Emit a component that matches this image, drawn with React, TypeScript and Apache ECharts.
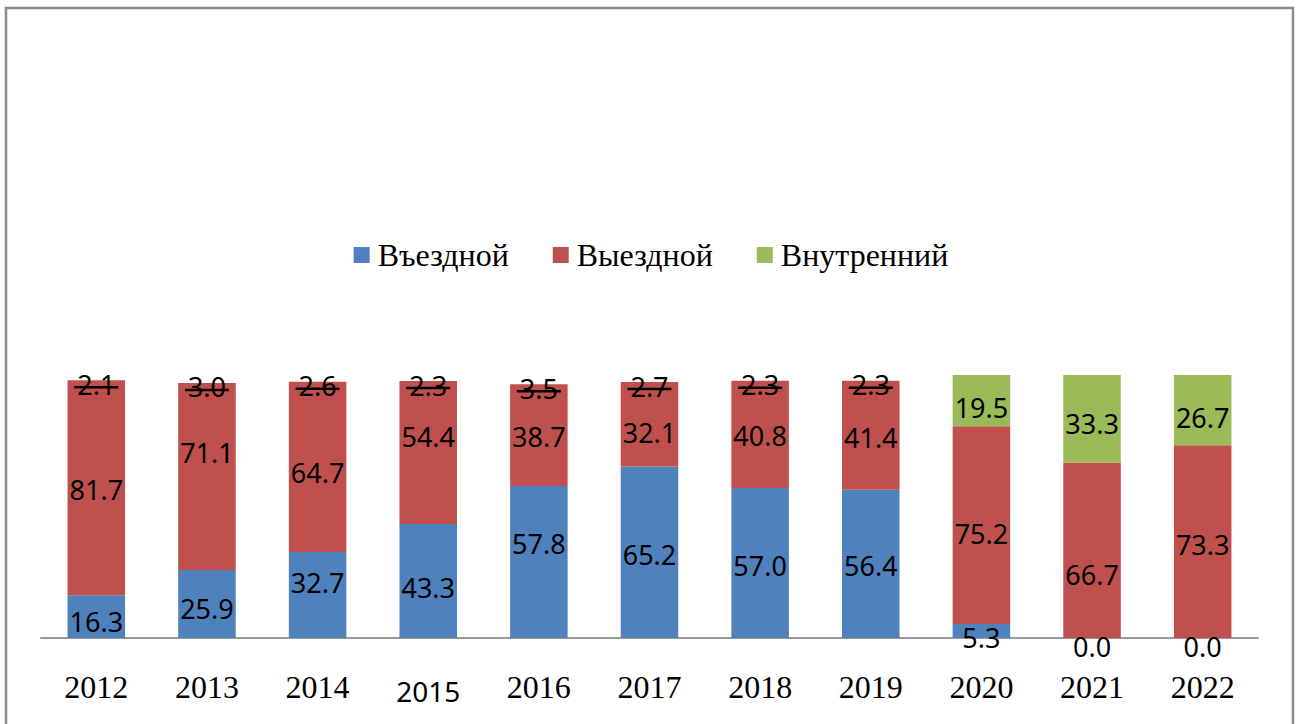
import React, { useEffect, useRef } from "react";
import * as echarts from "echarts";

const years = ["2012", "2013", "2014", "2015", "2016", "2017", "2018", "2019", "2020", "2021", "2022"];
const inbound = [16.3, 25.9, 32.7, 43.3, 57.8, 65.2, 57.0, 56.4, 5.3, 0.0, 0.0];
const outbound = [81.7, 71.1, 64.7, 54.4, 38.7, 32.1, 40.8, 41.4, 75.2, 66.7, 73.3];
const domestic = [2.1, 3.0, 2.6, 2.3, 3.5, 2.7, 2.3, 2.3, 19.5, 33.3, 26.7];
const seriesNames = ["Въездной", "Выездной", "Внутренний"];
const colors = ["#4f81bd", "#c0504d", "#9bbb59"];

const LABEL_FONT = "'Noto Sans', 'Open Sans', sans-serif";
const SERIF = "'Liberation Serif', 'DejaVu Serif', serif";

// hand-placed label nudges of the original (vertical px), per series
const nudgeInbound = [5, 5, -12, 6, -18, 2, 2, 2, 6, 8, 8];
const nudgeOutbound = [2, -24, 6, -16, 1, 8, 1, 2, 8, 24, 3];
const nudgeDomestic = [0, 0, 0, 0, 0, 0, 0, 0, 7, 5, 7];

export default function App() {
  const ref = useRef<HTMLDivElement>(null);
  useEffect(() => {
    if (!ref.current) return;
    const chart = echarts.init(ref.current, null, { renderer: "svg" });
    const dataLabel = {
      show: true,
      position: "inside" as const,
      color: "#000",
      fontFamily: LABEL_FONT,
      fontSize: 27,
      formatter: (p: any) => Number(p.value).toFixed(1),
    };
    const small = (v: number) => v < 5;
    const withNudge = (arr: number[], nudge: number[]) =>
      arr.map((v, i) => ({ value: v, label: { offset: [0, nudge[i]] } }));
    chart.setOption({
      animation: false,
      backgroundColor: "#fff",
      graphic: [
        {
          type: "rect",
          shape: { x: 6, y: 8, width: 1287, height: 740 },
          style: { fill: "none", stroke: "#8c8c8c", lineWidth: 2.5 },
          z: 100,
        },
      ],
      legend: {
        top: 234,
        left: "center",
        itemWidth: 16,
        itemHeight: 16,
        itemGap: 44,
        icon: "rect",
        data: seriesNames,
        textStyle: { fontFamily: SERIF, fontSize: 32, color: "#000", padding: [0, 0, 0, 3] },
      },
      grid: { left: 41, right: 44, top: 375, bottom: 86 },
      xAxis: {
        type: "category",
        data: years,
        axisLine: { lineStyle: { color: "#999", width: 2 } },
        axisTick: { show: false },
        axisLabel: {
          interval: 0,
          margin: 33,
          color: "#000",
          fontFamily: SERIF,
          fontSize: 32,
          formatter: (v: string) => (v === "2015" ? `{s|${v}}` : v),
          rich: { s: { fontFamily: LABEL_FONT, fontSize: 28, color: "#000", padding: [6, 0, 0, 0] } },
        },
      },
      yAxis: {
        type: "value",
        min: 0,
        max: 100,
        show: false,
        splitLine: { show: false },
      },
      series: [
        {
          name: seriesNames[0],
          type: "bar",
          stack: "total",
          barWidth: "52%",
          itemStyle: { color: colors[0] },
          label: dataLabel,
          data: withNudge(inbound, nudgeInbound),
        },
        {
          name: seriesNames[1],
          type: "bar",
          stack: "total",
          barWidth: "52%",
          itemStyle: { color: colors[1] },
          label: dataLabel,
          data: withNudge(outbound, nudgeOutbound),
        },
        {
          name: seriesNames[2],
          type: "bar",
          stack: "total",
          barWidth: "52%",
          itemStyle: { color: colors[2] },
          label: dataLabel,
          data: domestic.map((v, i) =>
            small(v) ? "-" : { value: v, label: { offset: [0, nudgeDomestic[i]] } }
          ),
        },
        {
          type: "custom",
          name: "small",
          silent: true,
          z: 10,
          renderItem: (params: any, api: any) => {
            const idx = api.value(0);
            const top = api.value(1);
            const val = api.value(2);
            const p = api.coord([idx, top]);
            return {
              type: "group",
              children: [
                {
                  type: "text",
                  style: {
                    text: Number(val).toFixed(1),
                    x: p[0],
                    y: p[1] + 4,
                    align: "center",
                    verticalAlign: "middle",
                    fontFamily: LABEL_FONT,
                    fontSize: 27,
                    fill: "#000",
                  },
                },
                {
                  type: "line",
                  shape: { x1: p[0] - 22, y1: p[1] + 7, x2: p[0] + 22, y2: p[1] + 7 },
                  style: { stroke: "#000", lineWidth: 2.5 },
                },
              ],
            };
          },
          data: domestic
            .map((v, i) => [i, inbound[i] + outbound[i], v])
            .filter((d) => small(d[2])),
        },
      ],
    });
    return () => chart.dispose();
  }, []);
  return (
    <div
      ref={ref}
      style={{ position: "fixed", left: 0, top: 0, width: 1302, height: 724, background: "#fff" }}
    />
  );
}
